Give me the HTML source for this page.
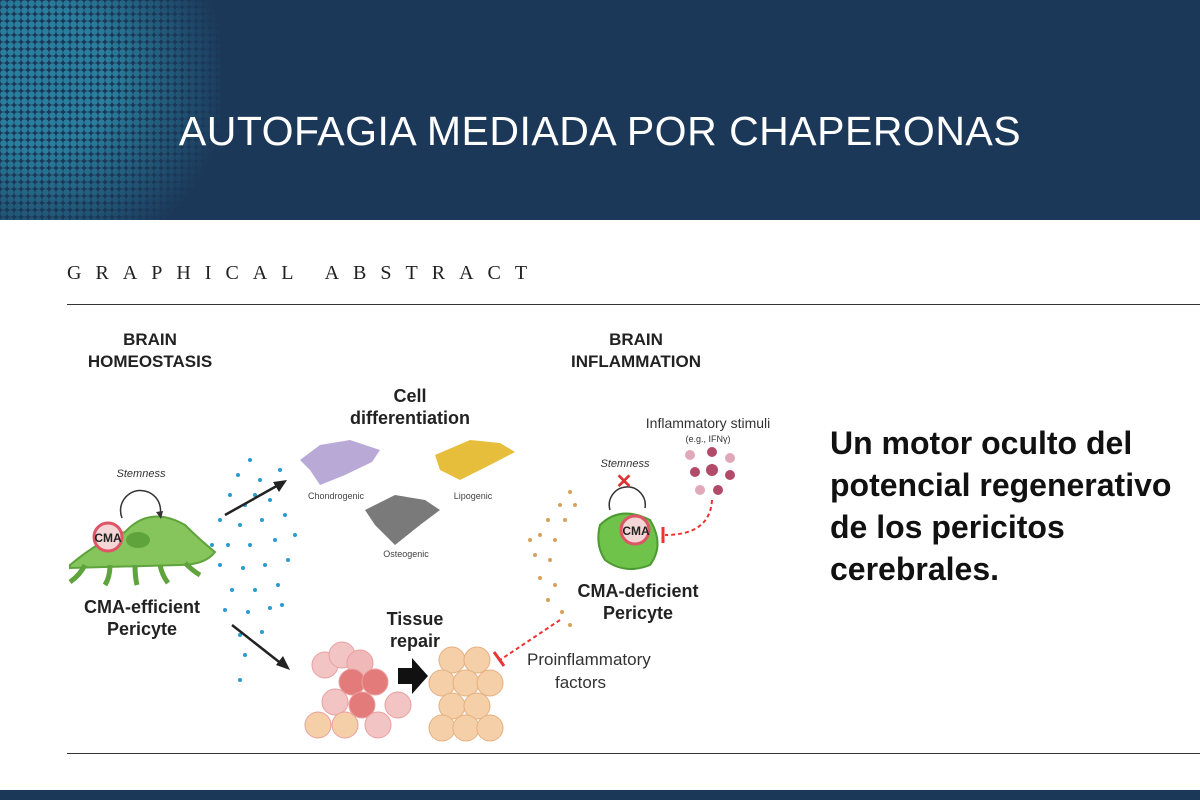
<!DOCTYPE html>
<html><head><meta charset="utf-8">
<style>
html,body{margin:0;padding:0;width:1200px;height:800px;overflow:hidden;background:#fff;font-family:"Liberation Sans",sans-serif;}
.hdr{position:absolute;left:0;top:0;width:1200px;height:220px;background:#1c3858;}
.dots{position:absolute;left:0;top:0;width:220px;height:220px;
background:radial-gradient(circle,#2a7f9e 3px,transparent 3.5px) 0 0/7px 7px;
-webkit-mask-image:radial-gradient(circle at 40px 80px,#000 0,#000 70px,rgba(0,0,0,.5) 130px,transparent 190px);
mask-image:radial-gradient(circle at 40px 80px,#000 0,#000 70px,rgba(0,0,0,.5) 130px,transparent 190px);}
.title{position:absolute;left:0;width:1200px;top:108px;text-align:center;color:#fff;font-size:41px;letter-spacing:0.5px;}
.foot{position:absolute;left:0;top:790px;width:1200px;height:10px;background:#1c3858;}
.ga{position:absolute;left:67px;top:262px;font-family:"Liberation Serif",serif;font-size:20px;letter-spacing:14px;color:#222;}
.l1{position:absolute;left:67px;top:304px;width:1133px;height:1px;background:#333;}
.l2{position:absolute;left:67px;top:753px;width:1133px;height:1px;background:#333;}
.side{position:absolute;left:830px;top:422px;font-size:32px;font-weight:bold;line-height:42px;color:#111;}
</style></head><body>
<div class="hdr"><div class="dots"></div><div class="title">AUTOFAGIA MEDIADA POR CHAPERONAS</div></div>
<div class="ga">GRAPHICAL ABSTRACT</div>
<div class="l1"></div><div class="l2"></div>
<svg width="1200" height="800" style="position:absolute;left:0;top:0" font-family="Liberation Sans, sans-serif">
<g font-weight="bold" fill="#222" text-anchor="middle">
<text x="150" y="345" font-size="17">BRAIN</text><text x="150" y="367" font-size="17">HOMEOSTASIS</text>
<text x="636" y="345" font-size="17">BRAIN</text><text x="636" y="367" font-size="17">INFLAMMATION</text>
<text x="410" y="402" font-size="18">Cell</text><text x="410" y="424" font-size="18">differentiation</text>
<text x="142" y="613" font-size="18">CMA-efficient</text><text x="142" y="635" font-size="18">Pericyte</text>
<text x="415" y="625" font-size="18">Tissue</text><text x="415" y="647" font-size="18">repair</text>
<text x="638" y="597" font-size="18">CMA-deficient</text><text x="638" y="619" font-size="18">Pericyte</text>
</g>
<text x="141" y="477" font-size="11" font-style="italic" fill="#333" text-anchor="middle">Stemness</text>
<text x="625" y="467" font-size="11" font-style="italic" fill="#333" text-anchor="middle">Stemness</text>
<text x="708" y="428" font-size="14" fill="#333" text-anchor="middle">Inflammatory stimuli</text>
<text x="708" y="442" font-size="9" fill="#333" text-anchor="middle">(e.g., IFNγ)</text>
<text x="527" y="665" font-size="17" fill="#333">Proinflammatory</text>
<text x="555" y="688" font-size="17" fill="#333">factors</text>
<text x="336" y="499" font-size="9" fill="#444" text-anchor="middle">Chondrogenic</text>
<text x="473" y="499" font-size="9" fill="#444" text-anchor="middle">Lipogenic</text>
<text x="406" y="557" font-size="9" fill="#444" text-anchor="middle">Osteogenic</text>
<g fill="#86c55b" stroke="#5fa33d" stroke-width="2">
<path d="M70 565 Q100 540 125 532 Q150 505 185 525 Q200 540 215 552 Q205 565 180 565 L70 568 Z"/>
<path d="M85 565 Q80 575 70 582 M110 565 q0 12 -5 20 M135 565 q0 12 2 20 M160 565 q2 10 8 18 M185 563 q8 8 15 12" fill="none" stroke-width="5"/>
</g>
<ellipse cx="138" cy="540" rx="12" ry="8" fill="#5fa33d"/>
<circle cx="108" cy="537" r="14" fill="#f4d6d6" stroke="#d56" stroke-width="3"/>
<text x="108" y="542" font-size="12" font-weight="bold" text-anchor="middle" fill="#222">CMA</text>
<path d="M122 518 A20 20 0 1 1 160 515" fill="none" stroke="#333" stroke-width="1.5"/>
<path d="M156 512 l5 7 l2 -8z" fill="#333"/>
<g fill="#2a9ad0">
<circle cx="250" cy="460" r="2"/><circle cx="238" cy="475" r="2"/><circle cx="260" cy="480" r="2"/><circle cx="230" cy="495" r="2"/><circle cx="245" cy="505" r="2"/><circle cx="270" cy="500" r="2"/><circle cx="220" cy="520" r="2"/><circle cx="240" cy="525" r="2"/><circle cx="262" cy="520" r="2"/><circle cx="285" cy="515" r="2"/><circle cx="228" cy="545" r="2"/><circle cx="250" cy="545" r="2"/><circle cx="275" cy="540" r="2"/><circle cx="295" cy="535" r="2"/><circle cx="220" cy="565" r="2"/><circle cx="243" cy="568" r="2"/><circle cx="265" cy="565" r="2"/><circle cx="288" cy="560" r="2"/><circle cx="232" cy="590" r="2"/><circle cx="255" cy="590" r="2"/><circle cx="278" cy="585" r="2"/><circle cx="225" cy="610" r="2"/><circle cx="248" cy="612" r="2"/><circle cx="270" cy="608" r="2"/><circle cx="240" cy="635" r="2"/><circle cx="262" cy="632" r="2"/><circle cx="245" cy="655" r="2"/><circle cx="240" cy="680" r="2"/><circle cx="255" cy="495" r="2"/><circle cx="280" cy="470" r="2"/><circle cx="212" cy="545" r="2"/><circle cx="282" cy="605" r="2"/>
</g>
<path d="M225 515 L282 483" stroke="#222" stroke-width="2.5"/><path d="M287 480 l-14 2 l6 10z" fill="#222"/>
<path d="M232 625 L283 665" stroke="#222" stroke-width="2.5"/><path d="M290 670 l-7 -14 l-7 9z" fill="#222"/>
<path d="M300 460 L320 445 L350 440 L380 450 L372 462 L345 475 L320 485 L310 470Z" fill="#b9a9d6"/>
<path d="M435 455 L470 440 L500 443 L515 452 L490 465 L460 480 L440 470Z" fill="#e6be3c"/>
<path d="M365 510 L395 495 L425 500 L440 510 L420 525 L395 545 L375 525Z" fill="#7a7a7a"/>
<g stroke="#e8a0a0" stroke-width="1">
<circle cx="325" cy="665" r="13" fill="#f3c4c4"/><circle cx="342" cy="655" r="13" fill="#f3c4c4"/><circle cx="360" cy="663" r="13" fill="#f0b8b8"/><circle cx="352" cy="682" r="13" fill="#e37b7b"/><circle cx="375" cy="682" r="13" fill="#e37b7b"/><circle cx="335" cy="702" r="13" fill="#f3c4c4"/><circle cx="362" cy="705" r="13" fill="#e37b7b"/><circle cx="398" cy="705" r="13" fill="#f3c4c4"/><circle cx="318" cy="725" r="13" fill="#f5cfa8"/><circle cx="345" cy="725" r="13" fill="#f5cfa8"/><circle cx="378" cy="725" r="13" fill="#f3c4c4"/>
</g>
<path d="M398 668 h14 v-10 l16 18 l-16 18 v-10 h-14z" fill="#111"/>
<g fill="#f5cfa8" stroke="#e5b080">
<circle cx="452" cy="660" r="13"/><circle cx="477" cy="660" r="13"/><circle cx="442" cy="683" r="13"/><circle cx="466" cy="683" r="13"/><circle cx="490" cy="683" r="13"/><circle cx="452" cy="706" r="13"/><circle cx="477" cy="706" r="13"/><circle cx="442" cy="728" r="13"/><circle cx="466" cy="728" r="13"/><circle cx="490" cy="728" r="13"/>
</g>
<g fill="#d9a05a">
<circle cx="570" cy="492" r="2"/><circle cx="560" cy="505" r="2"/><circle cx="548" cy="520" r="2"/><circle cx="540" cy="535" r="2"/><circle cx="555" cy="540" r="2"/><circle cx="535" cy="555" r="2"/><circle cx="550" cy="560" r="2"/><circle cx="540" cy="578" r="2"/><circle cx="555" cy="585" r="2"/><circle cx="548" cy="600" r="2"/><circle cx="562" cy="612" r="2"/><circle cx="570" cy="625" r="2"/><circle cx="565" cy="520" r="2"/><circle cx="575" cy="505" r="2"/><circle cx="530" cy="540" r="2"/>
</g>
<path d="M600 525 Q620 505 650 520 Q665 545 650 565 Q625 575 605 560 Q595 545 600 525Z" fill="#6fc24a" stroke="#4e9a32" stroke-width="2"/>
<circle cx="635" cy="530" r="14" fill="#f4d6d6" stroke="#d56" stroke-width="3"/>
<text x="636" y="535" font-size="12" font-weight="bold" text-anchor="middle" fill="#222">CMA</text>
<path d="M610 510 A18 18 0 1 1 645 508" fill="none" stroke="#333" stroke-width="1.5"/>
<text x="624" y="488" font-size="20" font-weight="bold" fill="#d33" text-anchor="middle">✕</text>
<g fill="#b24a6a"><circle cx="690" cy="455" r="5" fill="#e0a8b8"/><circle cx="712" cy="452" r="5"/><circle cx="730" cy="458" r="5" fill="#e0a8b8"/><circle cx="695" cy="472" r="5"/><circle cx="712" cy="470" r="6"/><circle cx="730" cy="475" r="5"/><circle cx="700" cy="490" r="5" fill="#e0a8b8"/><circle cx="718" cy="490" r="5"/></g>
<path d="M712 500 Q710 535 665 535" fill="none" stroke="#e33" stroke-width="2" stroke-dasharray="4,3"/>
<path d="M663 527 v16" stroke="#e33" stroke-width="3"/>
<path d="M560 620 L500 660" stroke="#e33" stroke-width="2" stroke-dasharray="4,3"/>
<path d="M494 652 l10 14" stroke="#e33" stroke-width="3"/>
</svg>
<div class="side">Un motor oculto del<br>potencial regenerativo<br>de los pericitos<br>cerebrales.</div>
<div class="foot"></div>
</body></html>
